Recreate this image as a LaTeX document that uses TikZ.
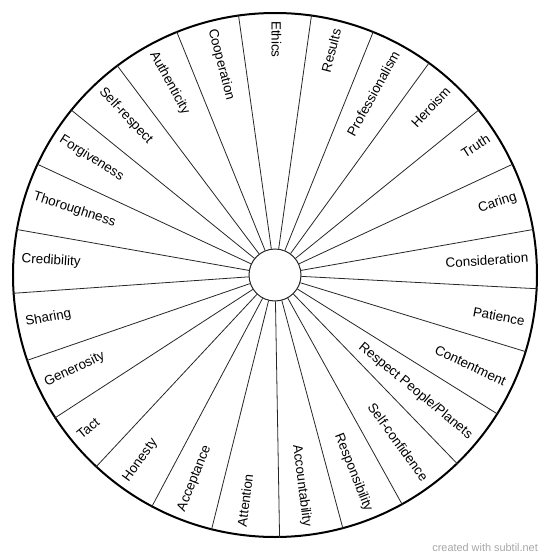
\documentclass[tikz,border=0pt]{standalone}
\usepackage{fontspec}
\setmainfont{Liberation Sans}

\begin{document}
\begin{tikzpicture}[
x=1pt, y=1pt,
wheel/.style={circle, draw=black, line width=2pt, minimum size=524pt, inner sep=0pt},
hub/.style={circle, draw=black!85, line width=1pt, fill=white, minimum size=52pt, inner sep=0pt},
spoke/.style={draw=black!85, line width=0.8pt},
value/.style={font=\fontsize{13.4}{16}\selectfont, inner sep=0pt, text height=9.6pt, text depth=2.8pt},
credit/.style={font=\fontsize{10.9}{13}\selectfont, text=black!35, inner sep=0pt}
]
\useasboundingbox (-275,-285) rectangle (275,275);
\node[wheel] (wheel) at (0,0) {};
\node[hub] (hub) at (0,0) {};
% spokes between the segments
\foreach \k in {0,...,24} {
  \pgfmathsetmacro\b{82.8-14.4*\k}
  \draw[spoke] (hub.\b) -- (wheel.\b);
}
% one value per segment, clockwise from the top
\foreach \name [count=\i] in {Ethics, Results, Professionalism, Heroism, Truth, Caring,
  Consideration, Patience, Contentment, Respect People/Planets, Self-confidence,
  Responsibility, Accountability, Attention, Acceptance, Honesty, Tact, Generosity,
  Sharing, Credibility, Thoroughness, Forgiveness, Self-respect, Authenticity, Cooperation} {
  \pgfmathsetmacro\ang{90-(\i-1)*14.4}
  \pgfmathtruncatemacro\outw{and(\ang>-90,\ang<90)}
  \ifnum\outw=1
    \node[value, rotate=\ang, anchor=east] (v\i) at (\ang:254) {\name};
  \else
    \node[value, rotate=\ang+180, anchor=west] (v\i) at (\ang:254) {\name};
  \fi
}
\node[credit, anchor=east] (credit) at (263,-273) {created with subtil.net};
\end{tikzpicture}
\end{document}
